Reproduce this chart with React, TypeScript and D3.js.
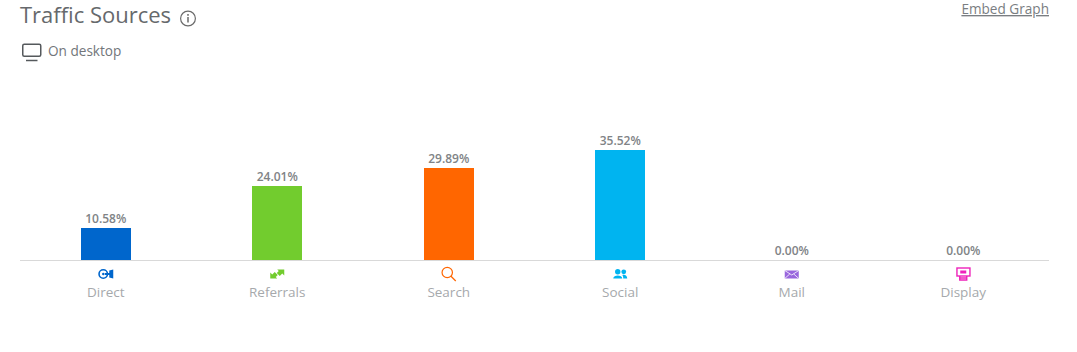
import React from "react";
import * as d3 from "d3";

const categories = ["Direct", "Referrals", "Search", "Social", "Mail", "Display"];
const shares = [10.58, 24.01, 29.89, 35.52, 0, 0];
const colors = ["#0066cc", "#72cc2e", "#ff6600", "#00b4f0", "#9966dd", "#ee22bb"];

const W = 1077;
const H = 352;
const FONT = "'Open Sans', sans-serif";

const x = d3.scaleBand<string>().domain(categories).range([20, 1049]).paddingInner(0).paddingOuter(0);
const y = d3.scaleLinear().domain([0, 35.52]).range([260, 150]);

function Icon({ name, color }: { name: string; color: string }) {
  switch (name) {
    case "Direct":
      return (
        <g fill="none" stroke={color}>
          <circle cx={-2.5} cy={0} r={4.2} strokeWidth={1.6} />
          <circle cx={-2.5} cy={0} r={1.2} fill={color} stroke="none" />
          <path d="M-1 0H5" strokeWidth={2} />
          <path d="M3.5 -3.5V3.5L7.5 4.5V-4.5Z" fill={color} stroke="none" />
        </g>
      );
    case "Referrals":
      return (
        <g fill={color}>
          <path d="M-7 4.5V-1.5L-5 0.5L-2.5 -2L0.5 1L-1.5 3L0 4.5Z" />
          <path d="M7 -4.5V1.5L5 -0.5L2.5 2L-0.5 -1L1.5 -3L0 -4.5Z" />
        </g>
      );
    case "Search":
      return (
        <g fill="none" stroke={color} strokeWidth={1.2}>
          <circle cx={-1.5} cy={-1.5} r={5.2} />
          <path d="M2 2L7 7" />
        </g>
      );
    case "Social":
      return (
        <g fill={color}>
          <circle cx={-2.5} cy={-2.2} r={2.7} />
          <circle cx={3.5} cy={-2.2} r={2.4} />
          <path d="M-7 4.5C-7 0.5 2 0.5 2 4.5Z" />
          <path d="M3 4.5C3 2 2.5 1.5 2 1C4 0 7 1 7 4.5Z" />
        </g>
      );
    case "Mail":
      return (
        <g>
          <rect x={-7} y={-3.5} width={14} height={8} fill={color} />
          <path d="M-7 -3.5L0 1L7 -3.5M-7 4.5L-2 0M7 4.5L2 0" fill="none" stroke="#ffffff" strokeWidth={0.8} />
        </g>
      );
    default:
      return (
        <g fill="none" stroke={color} strokeWidth={1.4}>
          <rect x={-6.3} y={-6} width={13} height={8} />
          <rect x={-3} y={-3.5} width={6} height={3} fill={color} stroke="none" />
          <path d="M-3.5 2V6H3.5V2M-3.5 4H3.5" />
        </g>
      );
  }
}

export default function App() {
  const band = x.bandwidth();
  const barW = 50;
  return (
    <svg width={W} height={H} style={{ position: "absolute", left: 0, top: 0, background: "#fff" }} fontFamily={FONT}>
      <text x={20} y={23} fontSize={22} fill="#66696c">Traffic Sources</text>
      <g transform="translate(188,18.5)">
        <circle r={7.4} fill="none" stroke="#6b6b6b" strokeWidth={1.2} />
        <rect x={-0.75} y={-1.5} width={1.5} height={5.5} fill="#6b6b6b" />
        <rect x={-0.75} y={-4.5} width={1.5} height={1.8} fill="#6b6b6b" />
      </g>
      <text x={1049} y={14} fontSize={13.6} fill="#7a7e82" textAnchor="end" textDecoration="underline">Embed Graph</text>

      <g fill="none" stroke="#55595c">
        <rect x={22.75} y={44.25} width={18} height={12} rx={1.5} strokeWidth={1.5} />
        <path d="M26 60.5H37.5" strokeWidth={1.5} />
      </g>
      <text x={48} y={56} fontSize={13.6} fill="#72767a">On desktop</text>

      {categories.map((c, i) => {
        const cx = (x(c) as number) + band / 2;
        const top = Math.ceil(y(shares[i]));
        return (
          <g key={c}>
            <rect x={Math.round(cx - barW / 2)} y={top} width={barW} height={260 - top} fill={colors[i]} />
            <text x={cx} y={top - 5} fontSize={12} fontWeight={600} fill="#808386" textAnchor="middle">
              {shares[i].toFixed(2)}%
            </text>
            <g transform={`translate(${cx},274)`}>
              <Icon name={c} color={colors[i]} />
            </g>
            <text x={cx} y={297} fontSize={13.5} fill="#a6a9ac" textAnchor="middle">{c}</text>
          </g>
        );
      })}
      <line x1={20} x2={1049} y1={260.5} y2={260.5} stroke="#d9d9d9" strokeWidth={1} />
    </svg>
  );
}
